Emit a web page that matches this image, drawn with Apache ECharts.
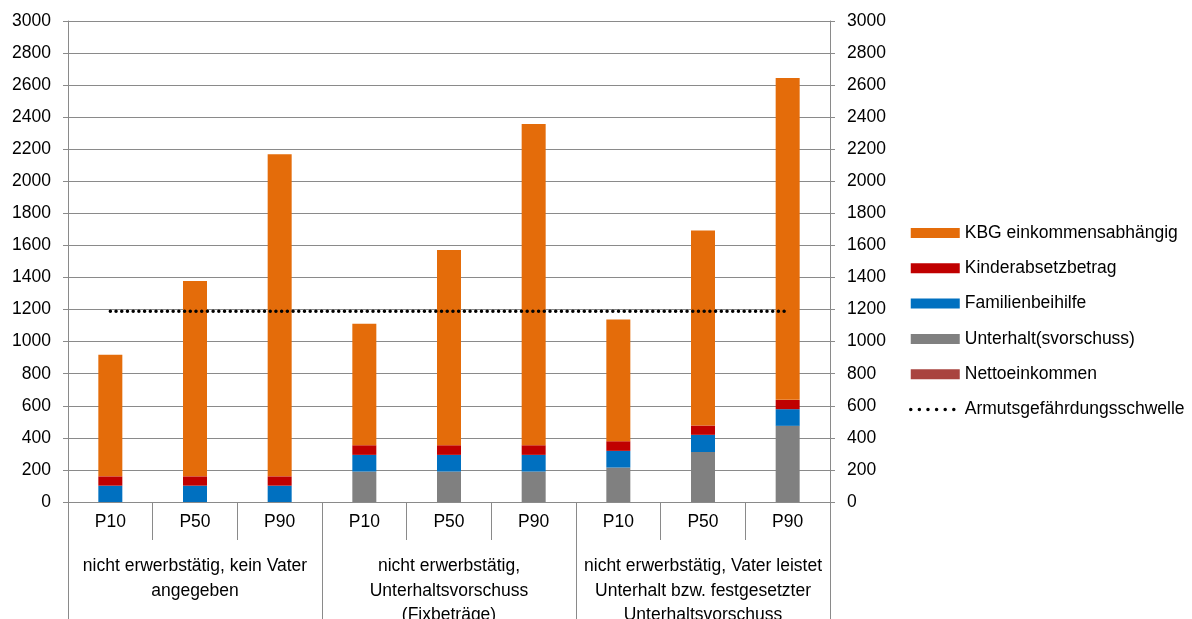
<!DOCTYPE html>
<html>
<head>
<meta charset="utf-8">
<script src="https://cdn.jsdelivr.net/npm/echarts@6/dist/echarts.min.js"></script>
<style>
html,body{margin:0;padding:0;background:#fff;}
#c{width:1192px;height:619px;}
</style>
</head>
<body>
<div id="c"></div>
<script>
const categories = ['P10','P50','P90','P10','P50','P90','P10','P50','P90'];
const groups = ['nicht erwerbstätig, kein Vater\nangegeben',
                'nicht erwerbstätig,\nUnterhaltsvorschuss\n(Fixbeträge)',
                'nicht erwerbstätig, Vater leistet\nUnterhalt bzw. festgesetzter\nUnterhaltsvorschuss'];
const nettoeinkommen = [0,0,0,0,0,0,0,0,0];
const unterhalt = [0,0,0,190,190,190,215,312,475];
const familienbeihilfe = [102,102,102,104,104,104,104,107,104];
const kinderabsetzbetrag = [58,58,58,60,60,60,60,58,58];
const kbg = [759,1219,2009,758,1217,2004,759,1217,2007];
const schwelle = [1190,1190,1190,1190,1190,1190,1190,1190,1190];
const yTicks = {min:0, max:3000, interval:200};

const FONT = 'Liberation Sans';
const FS = 17.5;
const GRAY = '#8a8a8a';
const chart = echarts.init(document.getElementById('c'));

function bar(name, data, color){
  return {name, type:'bar', stack:'s', data, barWidth:24, xAxisIndex:0, yAxisIndex:0,
    itemStyle:{color}, emphasis:{disabled:true}, animation:false};
}
const yCommon = {
  type:'value', min:yTicks.min, max:yTicks.max, interval:yTicks.interval,
  axisLine:{show:true, lineStyle:{color:GRAY, width:1}},
  axisTick:{show:true, length:5, lineStyle:{color:GRAY}},
  axisLabel:{fontFamily:FONT, fontSize:FS, color:'#000', margin:17, formatter:(v)=>String(v)}
};
chart.setOption({
  animation:false,
  textStyle:{fontFamily:FONT},
  grid:{left:68, right:362, top:21, bottom:117, containLabel:false, outerBoundsMode:'none'},
  legend:{
    orient:'vertical', left:904, top:219, itemWidth:49, itemHeight:10, itemGap:17.3,
    textStyle:{fontFamily:FONT, fontSize:FS, color:'#000', lineHeight:18},
    data:[
      {name:'KBG einkommensabhängig', icon:'rect'},
      {name:'Kinderabsetzbetrag', icon:'rect'},
      {name:'Familienbeihilfe', icon:'rect'},
      {name:'Unterhalt(svorschuss)', icon:'rect'},
      {name:'Nettoeinkommen', icon:'rect'},
      {name:'Armutsgefährdungsschwelle', itemStyle:{opacity:0},
       lineStyle:{color:'#000', width:3.5, type:[0.01,8.6], cap:'round'}}],
    selectedMode:false
  },
  xAxis:[
    {type:'category', data:categories, position:'bottom',
     axisLine:{show:true, lineStyle:{color:GRAY}},
     axisTick:{show:true, length:38, interval:0, lineStyle:{color:GRAY}},
     axisLabel:{interval:0, fontFamily:FONT, fontSize:FS, color:'#000', margin:12, lineHeight:17}},
    {type:'category', data:groups, position:'bottom',
     axisLine:{show:false},
     axisTick:{show:true, length:117, interval:0, lineStyle:{color:GRAY}},
     axisLabel:{interval:0, fontFamily:FONT, fontSize:FS, color:'#000', margin:52, lineHeight:24.5}}
  ],
  yAxis:[
    Object.assign({}, yCommon, {position:'left', splitLine:{show:true, lineStyle:{color:GRAY, width:1}}}),
    Object.assign({}, yCommon, {position:'right', splitLine:{show:false}})
  ],
  series:[
    bar('Nettoeinkommen', nettoeinkommen, '#A9443F'),
    bar('Unterhalt(svorschuss)', unterhalt, '#808080'),
    bar('Familienbeihilfe', familienbeihilfe, '#0070C0'),
    bar('Kinderabsetzbetrag', kinderabsetzbetrag, '#C00000'),
    bar('KBG einkommensabhängig', kbg, '#E46C0A'),
    {name:'Armutsgefährdungsschwelle', type:'line', data:schwelle, xAxisIndex:0, yAxisIndex:0,
     symbol:'none', z:5, color:'#000',
     lineStyle:{color:'#000', width:3.5, type:[0.01,5.7], cap:'round'},
     emphasis:{disabled:true}}
  ]
});
</script>
</body>
</html>
